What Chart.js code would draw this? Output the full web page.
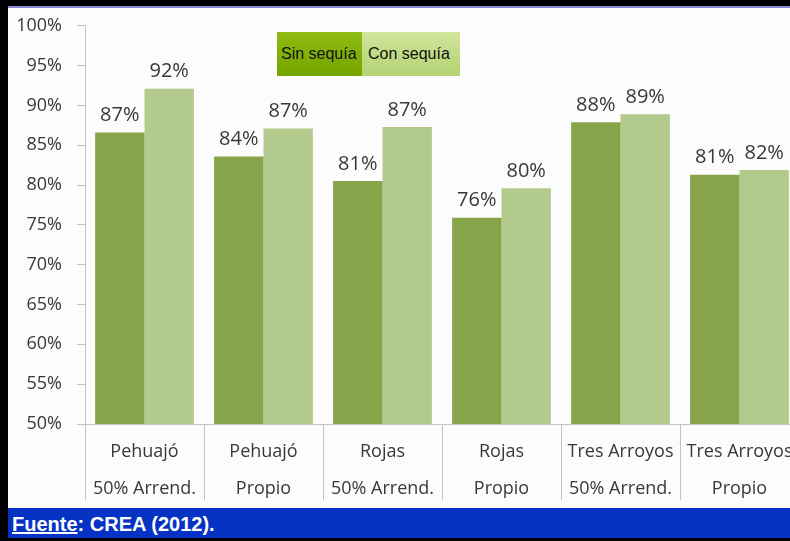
<!DOCTYPE html>
<html>
<head>
<meta charset="utf-8">
<script src="https://cdn.jsdelivr.net/npm/chart.js@4.4.1/dist/chart.umd.min.js"></script>
<style>
  html, body { margin: 0; padding: 0; background: #000; overflow: hidden; }
  #wrap { position: relative; width: 790px; height: 541px; overflow: hidden; background: #000; }
  #frame { position: absolute; left: 8px; top: 6px; width: 800px; height: 502px;
           background: #fcfcfc; border-top: 2px solid #8a8ad6; box-sizing: border-box; }
  #chart { position: absolute; left: 8px; top: 0px; }
  .leg { position: absolute; top: 32px; height: 44px; line-height: 44px;
         font-family: "Liberation Sans", Arial, sans-serif; font-size: 16px; color: #111;
         box-sizing: border-box; }
  #leg1 { left: 277px; width: 85px; padding-left: 4px;
          background: linear-gradient(#8fbd12, #76a400); }
  #leg2 { left: 362px; width: 98px; padding-left: 6px;
          background: linear-gradient(#cfe59a, #b5d274); }
  #footer { position: absolute; left: 8px; top: 508px; width: 790px; height: 30px;
            background: #0633c4; color: #fff; font-family: "Liberation Sans Narrow", "Liberation Sans", sans-serif;
            font-weight: bold; font-size: 20px; line-height: 32px; padding-left: 4px; box-sizing: border-box; }
  #footer span { text-decoration: underline; }
</style>
</head>
<body>
<div id="wrap">
  <div id="frame"></div>
  <canvas id="chart" width="791" height="508"></canvas>
  <div class="leg" id="leg1">Sin sequía</div>
  <div class="leg" id="leg2">Con sequía</div>
  <div id="footer"><span>Fuente</span>: CREA (2012).</div>
</div>
<script>
const categories = [
  ['Pehuajó', '50% Arrend.'],
  ['Pehuajó', 'Propio'],
  ['Rojas', '50% Arrend.'],
  ['Rojas', 'Propio'],
  ['Tres Arroyos', '50% Arrend.'],
  ['Tres Arroyos', 'Propio']
];
const sinSequia = [86.6, 83.6, 80.5, 75.9, 87.9, 81.3];
const conSequia = [92.1, 87.1, 87.3, 79.6, 88.9, 81.9];
const yTicks = [50, 55, 60, 65, 70, 75, 80, 85, 90, 95, 100];

const textColor = '#383838';
const lineColor = '#c4c4c4';

// draws the "87%" style labels above each bar
const barLabels = {
  id: 'barLabels',
  afterDatasetsDraw(chart) {
    const ctx = chart.ctx;
    ctx.save();
    ctx.font = '20px "Open Sans"';
    ctx.fillStyle = textColor;
    ctx.textAlign = 'center';
    ctx.textBaseline = 'middle';
    chart.data.datasets.forEach((ds, i) => {
      chart.getDatasetMeta(i).data.forEach((bar, j) => {
        ctx.fillText(Math.round(ds.data[j]) + '%', bar.x, bar.y - 17);
      });
    });
    ctx.restore();
  }
};

new Chart(document.getElementById('chart'), {
  type: 'bar',
  data: {
    labels: categories,
    datasets: [
      { label: 'Sin sequía', data: sinSequia, backgroundColor: '#88a44b',
        categoryPercentage: 0.83, barPercentage: 1 },
      { label: 'Con sequía', data: conSequia, backgroundColor: '#b2ca8c',
        categoryPercentage: 0.83, barPercentage: 1 }
    ]
  },
  options: {
    responsive: false,
    animation: false,
    layout: { padding: { top: 0, right: 0, bottom: 0, left: 0 } },
    plugins: { legend: { display: false }, tooltip: { enabled: false } },
    scales: {
      x: {
        grid: { offset: true, drawOnChartArea: false, tickLength: 76, color: lineColor },
        border: { color: lineColor },
        ticks: {
          color: textColor, padding: -67, maxRotation: 0, autoSkip: false,
          font: { family: 'Open Sans', size: 18, lineHeight: '37px' }
        },
        afterFit(scale) { scale.height = 84; }
      },
      y: {
        min: 50, max: 100,
        afterBuildTicks(scale) { scale.ticks = yTicks.map(v => ({ value: v })); },
        grid: { drawOnChartArea: false, tickLength: 8, color: lineColor },
        border: { color: lineColor },
        ticks: {
          color: textColor, padding: 15,
          font: { family: 'Open Sans', size: 18 },
          callback: v => v + '%'
        },
        afterFit(scale) { scale.width = 77; }
      }
    }
  },
  plugins: [barLabels]
});
</script>
</body>
</html>
